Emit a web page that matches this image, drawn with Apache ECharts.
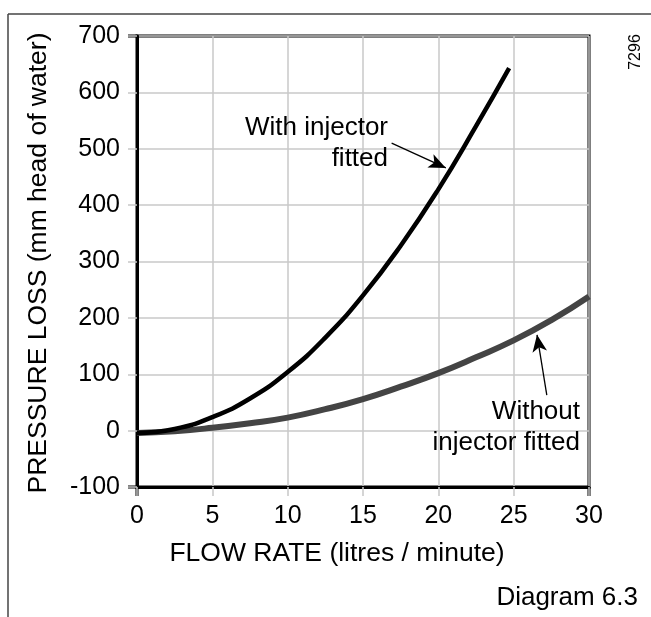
<!DOCTYPE html>
<html>
<head>
<meta charset="utf-8">
<script src="https://cdn.jsdelivr.net/npm/echarts@6/dist/echarts.min.js"></script>
<style>
html,body{margin:0;padding:0;background:#fff;}
#chart{width:651px;height:617px;}
</style>
</head>
<body>
<div id="chart"></div>
<script>
// Data
var flowInjector = [0, 2.5, 5, 7.5, 10, 12.5, 15, 17.5, 20, 22.5, 24.7];
var pressureInjector = [-4, 3, 24, 57, 104, 165, 240, 328, 428, 540, 643];
var flowPlain = [0, 2.5, 5, 7.5, 10, 12.5, 15, 17.5, 20, 22.5, 25, 27.5, 30];
var pressurePlain = [-4, -1, 5, 13, 23, 38, 56, 78, 102, 130, 160, 196, 238];
var xTicks = [0, 5, 10, 15, 20, 25, 30];
var yTicks = [-100, 0, 100, 200, 300, 400, 500, 600, 700];
var arrowInjector = [[16.9, 510], [20.5, 466]];
var arrowPlain = [[27.2, 63], [26.55, 170]];

var FONT = '"Liberation Sans", Arial, Helvetica, sans-serif';
var GRID = '#c8c8c8';

function pairs(xs, ys) { return xs.map(function (x, i) { return [x, ys[i]]; }); }

var chart = echarts.init(document.getElementById('chart'), null, {renderer: 'canvas'});
var option = {
  animation: false,
  backgroundColor: '#fff',
  grid: {left: 137, right: 62, top: 36, bottom: 130, show: true, borderColor: '#000', borderWidth: 3, backgroundColor: 'transparent'},
  xAxis: {
    type: 'value', min: xTicks[0], max: xTicks[xTicks.length - 1], interval: 5,
    axisLine: {show: true, onZero: false, lineStyle: {color: '#000', width: 3}},
    axisTick: {show: true, inside: false, length: 9, lineStyle: {color: GRID, width: 1.5}},
    splitLine: {show: true, lineStyle: {color: GRID, width: 1.5}},
    axisLabel: {margin: 17, color: '#000', fontSize: 25, fontFamily: FONT}
  },
  yAxis: {
    type: 'value', min: yTicks[0], max: yTicks[yTicks.length - 1], interval: 100,
    axisLine: {show: true, onZero: false, lineStyle: {color: '#000', width: 3}},
    axisTick: {show: true, inside: false, length: 9, lineStyle: {color: GRID, width: 1.5}},
    splitLine: {show: true, lineStyle: {color: GRID, width: 1.5}},
    axisLabel: {margin: 17, color: '#000', fontSize: 25, fontFamily: FONT}
  },
  series: [
    {
      name: 'Without injector fitted', type: 'line', smooth: 0.5, showSymbol: false, symbol: 'none',
      data: pairs(flowPlain, pressurePlain),
      lineStyle: {color: '#444', width: 6}, z: 3,
      markLine: {
        silent: true, symbol: ['none', 'arrow'], symbolSize: [11, 17],
        lineStyle: {color: '#000', width: 1.3, type: 'solid'}, label: {show: false},
        data: [[{coord: arrowPlain[0]}, {coord: arrowPlain[1]}]]
      }
    },
    {
      name: 'With injector fitted', type: 'line', smooth: 0.5, showSymbol: false, symbol: 'none',
      data: pairs(flowInjector, pressureInjector),
      lineStyle: {color: '#000', width: 4.5}, z: 4,
      markLine: {
        silent: true, symbol: ['none', 'arrow'], symbolSize: [11, 17],
        lineStyle: {color: '#000', width: 1.3, type: 'solid'}, label: {show: false},
        data: [[{coord: arrowInjector[0]}, {coord: arrowInjector[1]}]]
      }
    }
  ]
};
chart.setOption(option);

var p0 = chart.convertToPixel({gridIndex: 0}, [xTicks[0], yTicks[0]]);
var p1 = chart.convertToPixel({gridIndex: 0}, [xTicks[xTicks.length - 1], yTicks[yTicks.length - 1]]);
var textStyle = function (txt, size, align) {
  return {text: txt, fill: '#000', font: size + 'px ' + FONT, textAlign: align || 'center', textVerticalAlign: 'middle'};
};
chart.setOption({
  graphic: [
    // outer frame
    {type: 'line', shape: {x1: 8, y1: 14, x2: 651, y2: 14}, style: {stroke: '#444', lineWidth: 1.5}},
    {type: 'line', shape: {x1: 8, y1: 14, x2: 8, y2: 617}, style: {stroke: '#444', lineWidth: 1.5}},
    // black corner ticks
    {type: 'line', shape: {x1: p0[0] - 9, y1: p0[1], x2: p0[0], y2: p0[1]}, style: {stroke: '#000', lineWidth: 3}},
    {type: 'line', shape: {x1: p0[0] - 9, y1: p1[1], x2: p0[0], y2: p1[1]}, style: {stroke: '#000', lineWidth: 3}},
    {type: 'line', shape: {x1: p0[0], y1: p0[1], x2: p0[0], y2: p0[1] + 9}, style: {stroke: '#000', lineWidth: 3}},
    {type: 'line', shape: {x1: p1[0], y1: p0[1], x2: p1[0], y2: p0[1] + 9}, style: {stroke: '#000', lineWidth: 3}},
    // axis names
    {type: 'text', x: 39, y: 263, rotation: Math.PI / 2, style: textStyle('PRESSURE LOSS (mm head of water)', 26.5)},
    {type: 'text', x: 337, y: 554, style: textStyle('FLOW RATE (litres / minute)', 26.5)},
    // annotations
    {type: 'text', x: 388, y: 128, style: textStyle('With injector', 26, 'right')},
    {type: 'text', x: 388, y: 159, style: textStyle('fitted', 26, 'right')},
    {type: 'text', x: 580, y: 412, style: textStyle('Without', 26, 'right')},
    {type: 'text', x: 580, y: 443, style: textStyle('injector fitted', 26, 'right')},
    {type: 'text', x: 638, y: 598, style: textStyle('Diagram 6.3', 26, 'right')},
    {type: 'text', x: 636, y: 52, rotation: Math.PI / 2, style: textStyle('7296', 16)}
  ]
});
</script>
</body>
</html>
